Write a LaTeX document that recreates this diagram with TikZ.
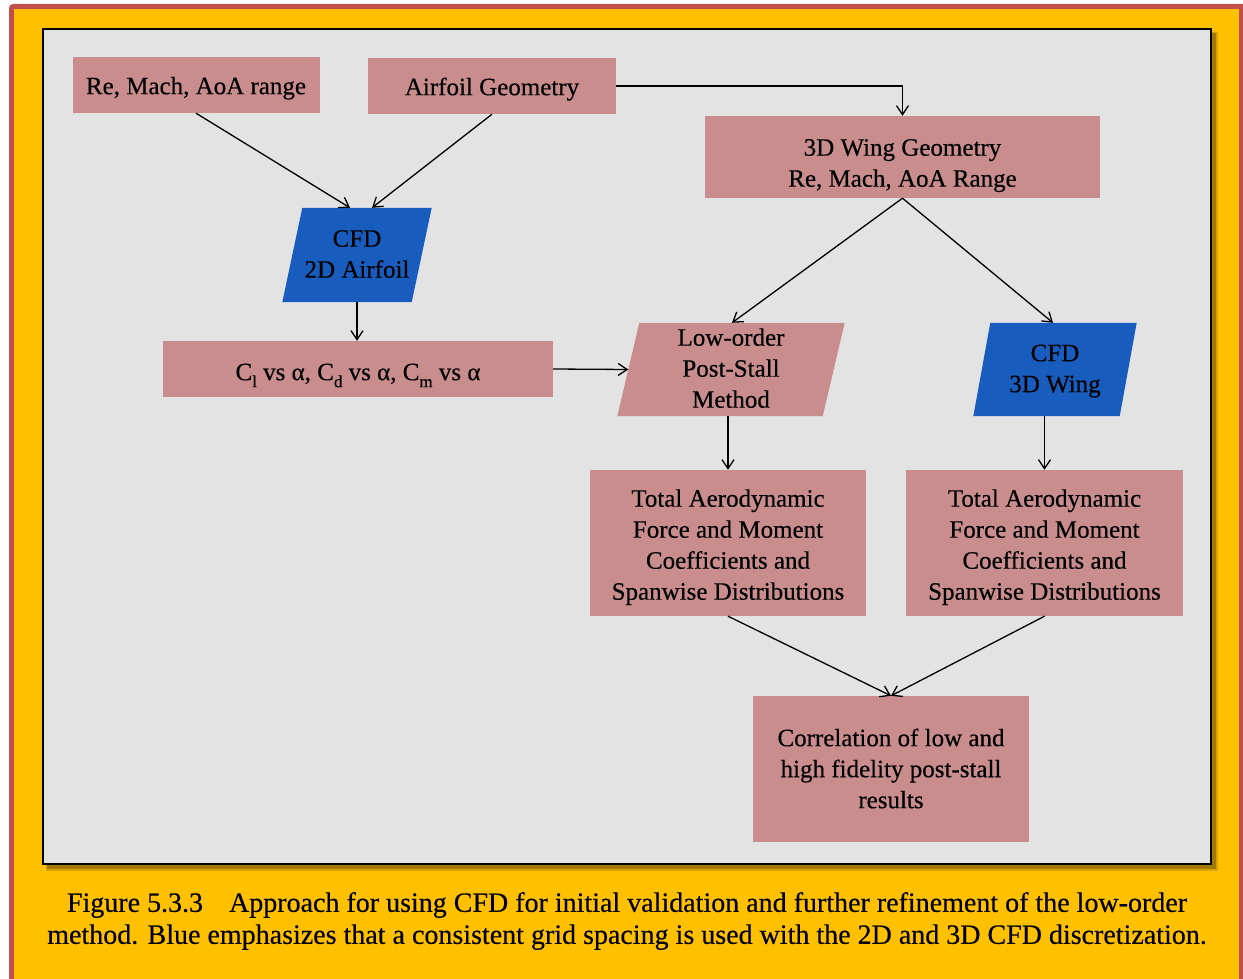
\documentclass[tikz,border=0pt]{standalone}
\usepackage{fontspec}
\setmainfont{Liberation Serif}
\usetikzlibrary{arrows.meta,calc}

\definecolor{frameRed}{RGB}{192,80,77}
\definecolor{capYellow}{RGB}{255,192,0}
\definecolor{panelGray}{RGB}{227,227,227}
\definecolor{boxPink}{RGB}{201,141,141}
\definecolor{cfdBlue}{RGB}{24,92,190}

\pgfdeclarelayer{bg}
\pgfdeclarelayer{shapes}
\pgfsetlayers{bg,shapes,main}

\newfontfamily\boxfont[FakeBold=0.35,AutoFakeBold=0.35]{Liberation Serif}

\tikzset{
  box/.style={fill=boxPink, inner sep=0pt,
    font=\boxfont\fontsize{25}{31}\selectfont},
  para/.style={inner sep=0pt,
    font=\boxfont\fontsize{25}{31}\selectfont},
  link/.style={-{Straight Barb[length=9pt,width=12pt]}, line width=1.3pt},
}

% centred lines of text, lowered by #1 without changing the box extent
\newcommand\tx[2][4pt]{\raisebox{-#1}[\height][\depth]{\begin{tabular}{@{}c@{}}#2\end{tabular}}}

% parallelogram fill behind a node: #1 name, #2 slant, #3 colour
\newcommand\paraFill[3]{%
  \begin{pgfonlayer}{shapes}
    \fill[#3] ($(#1.north west)+(#2/2,0)$) -- ($(#1.north east)+(#2/2,0)$)
      -- ($(#1.south east)-(#2/2,0)$) -- ($(#1.south west)-(#2/2,0)$) -- cycle;
  \end{pgfonlayer}}

\newcommand\subs[1]{\raisebox{-0.28em}{\fontsize{17}{17}\selectfont #1}}

\begin{document}
\begin{tikzpicture}[x=1pt,y=-1pt]
  \useasboundingbox (0,0) rectangle (1243,979);

  \begin{pgfonlayer}{bg}
    % outer frame and caption field
    \fill[white] (0,0) rectangle (1243,979);
    \fill[frameRed, rounded corners=4pt] (9,4) rectangle (1250,1000);
    \fill[capYellow] (14,9) rectangle (1239,1000);
    % diagram panel with shadow
    \fill[black, opacity=0.25] (47,33) rectangle (1216,869);
    \fill[black, opacity=0.15] (46,32) rectangle (1218,871);
    \draw[fill=panelGray, line width=2pt] (43,29) rectangle (1211,864);
  \end{pgfonlayer}

  % rectangular steps
  \node[box, minimum width=247pt, minimum height=56pt] (re) at (196,85) {\tx[3pt]{Re, Mach, AoA range}};
  \node[box, minimum width=248pt, minimum height=56pt] (af) at (492,86) {\tx[3pt]{Airfoil Geometry}};
  \node[box, minimum width=395pt, minimum height=82pt] (w3) at (902.5,157)
    {\tx[8pt]{3D Wing Geometry\\Re, Mach, AoA Range}};
  \node[box, minimum width=390pt, minimum height=56pt] (cl) at (358,369)
    {\tx[5pt]{C\subs{l} vs α, C\subs{d} vs α, C\subs{m} vs α}};
  \node[box, minimum width=276pt, minimum height=146pt] (tl) at (728,543)
    {\tx[4pt]{Total Aerodynamic\\Force and Moment\\Coefficients and\\Spanwise Distributions}};
  \node[box, minimum width=277pt, minimum height=146pt] (tr) at (1044.5,543)
    {\tx[4pt]{Total Aerodynamic\\Force and Moment\\Coefficients and\\Spanwise Distributions}};
  \node[box, minimum width=276pt, minimum height=146pt] (co) at (891,769)
    {\tx[2pt]{Correlation of low and\\high fidelity post-stall\\results}};

  % parallelogram steps
  \node[para, minimum width=129pt, minimum height=94pt] (c2) at (357,255)
    {\tx[1pt]{CFD\\2D Airfoil}};
  \paraFill{c2}{20}{cfdBlue}
  \node[para, minimum width=205pt, minimum height=93pt] (lo) at (731,369.5)
    {\tx[1pt]{Low-order\\Post-Stall\\Method}};
  \paraFill{lo}{22}{boxPink}
  \node[para, minimum width=146pt, minimum height=93pt] (c3) at (1055,369.5)
    {\tx[1pt]{CFD\\3D Wing}};
  \paraFill{c3}{17}{cfdBlue}

  % connectors
  \draw[link] (re.south) -- ([xshift=-7pt]c2.north);
  \draw[link] (af.south) -- ([xshift=15pt]c2.north);
  \draw[link] (af.east) -| (w3.north);
  \draw[link] (w3.south) -- ([xshift=1pt]lo.north);
  \draw[link] (w3.south) -- ([xshift=-2pt]c3.north);
  \draw[link] (c2.south) -- (c2.south |- cl.north);
  \draw[link] (cl.east) -- (lo.west);
  \draw[link] (lo.south -| tl.north) -- (tl.north);
  \draw[link] (c3.south -| tr.north) -- (tr.north);
  \draw[link] (tl.south) -- (co.north);
  \draw[link] (tr.south) -- (co.north);

  % caption
  \node[align=center, inner sep=0pt, font=\boxfont\fontsize{28}{32}\selectfont] (cap) at (627,921)
    {Figure 5.3.3\hspace{26pt}Approach for using CFD for initial validation and further refinement of the low-order\\
     method. Blue emphasizes that a consistent grid spacing is used with the 2D and 3D CFD discretization.};
\end{tikzpicture}
\end{document}
